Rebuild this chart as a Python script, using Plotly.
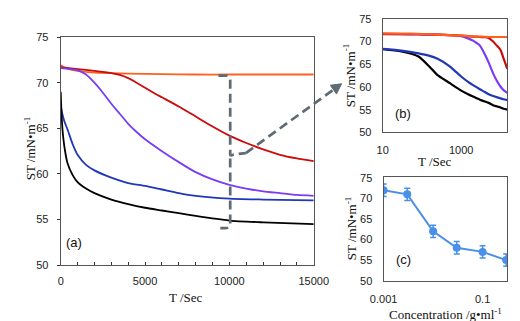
import plotly.graph_objects as go

W, H = 520, 321

# ---------------- data: panel (a) ----------------
t_orange = [0, 100, 300, 600, 1000, 2000, 3000, 4000, 6000, 8000, 10000, 12000, 15000]
st_orange = [71.9, 71.8, 71.6, 71.45, 71.3, 71.1, 71.05, 71.0, 70.95, 70.9, 70.9, 70.9, 70.9]

t_red = [0, 1000, 2000, 3000, 3500, 4000, 4500, 5000, 5500, 6000, 7000, 8000, 9000, 10000, 11000, 12000, 13000, 14000, 15000]
st_red = [71.7, 71.5, 71.3, 71.05, 70.85, 70.5, 70.0, 69.45, 68.9, 68.4, 67.4, 66.3, 65.2, 64.2, 63.4, 62.7, 62.1, 61.7, 61.4]

t_purple = [0, 500, 1000, 1500, 2000, 2500, 3000, 3500, 4000, 4500, 5000, 6000, 7000, 8000, 9000, 10000, 11000, 12000, 13000, 14000, 15000]
st_purple = [71.6, 71.5, 71.35, 70.9, 70.0, 68.9, 67.7, 66.6, 65.5, 64.6, 63.8, 62.5, 61.3, 60.2, 59.4, 58.8, 58.4, 58.1, 57.9, 57.7, 57.6]

t_blue = [0, 50, 150, 250, 400, 700, 1000, 1500, 2000, 3000, 4000, 5000, 6000, 7000, 8000, 10000, 12000, 15000]
st_blue = [67.6, 67.0, 66.2, 65.6, 64.9, 63.3, 62.1, 61.0, 60.4, 59.6, 59.0, 58.7, 58.3, 57.9, 57.6, 57.3, 57.2, 57.1]

t_black = [0, 50, 100, 150, 250, 400, 700, 1000, 1500, 2000, 3000, 4000, 5000, 6000, 7000, 8000, 10000, 12000, 15000]
st_black = [69.0, 66.5, 65.0, 64.0, 62.6, 61.2, 59.9, 59.1, 58.4, 57.9, 57.2, 56.7, 56.3, 56.0, 55.7, 55.4, 54.9, 54.7, 54.5]

# ---------------- data: panel (b) (log time) ----------------
tb = [10, 30, 82, 150, 250, 500, 1000, 1500, 2000, 3000, 4000, 5000, 6500, 8300, 10000, 12000, 15000]
b_orange = [71.8, 71.75, 71.7, 71.6, 71.5, 71.4, 71.3, 71.2, 71.15, 71.1, 71.05, 71.0, 71.0, 71.0, 71.0, 71.0, 71.0]
b_red = [71.7, 71.65, 71.6, 71.55, 71.5, 71.4, 71.3, 71.2, 71.1, 71.0, 70.95, 70.8, 70.0, 69.0, 68.2, 66.3, 64.0]
b_purple = [71.6, 71.6, 71.55, 71.5, 71.5, 71.4, 71.2, 70.7, 70.2, 69.1, 67.2, 65.4, 63.0, 61.2, 60.1, 59.3, 58.7]
b_blue = [68.4, 68.0, 67.4, 66.9, 66.2, 64.6, 62.3, 61.1, 60.4, 59.5, 58.9, 58.4, 58.0, 57.7, 57.5, 57.3, 57.1]
b_black = [68.3, 67.8, 66.7, 64.6, 62.6, 60.9, 59.2, 58.4, 57.9, 57.2, 56.8, 56.5, 56.0, 55.7, 55.5, 55.2, 55.0]

# ---------------- data: panel (c) ----------------
conc = [0.001, 0.003, 0.01, 0.03, 0.1, 0.3]
st_c = [72, 71, 62, 58, 57, 55]
err_c = [1.5, 1.5, 1.5, 1.5, 1.5, 1.5]

xa_ticks = list(range(0, 15001, 1000))
xa_text = [str(v) if v % 5000 == 0 else "" for v in xa_ticks]
y_ticks = [50, 55, 60, 65, 70, 75]

C_OR, C_RED, C_PUR, C_BLU, C_BLK = "#FF6020", "#CC0A0A", "#7A3CF5", "#2038B8", "#000000"
C_C = "#4A8FE8"
GRAY = "#5E6B72"

fig = go.Figure()

def add(x, y, c, xa, ya, w=1.8):
    fig.add_trace(go.Scatter(x=x, y=y, mode="lines", line=dict(color=c, width=w, shape="spline", smoothing=0.6),
                             xaxis=xa, yaxis=ya, showlegend=False, hoverinfo="skip"))

add(t_orange, st_orange, C_OR, "x", "y")
add(t_red, st_red, C_RED, "x", "y")
add(t_purple, st_purple, C_PUR, "x", "y")
add(t_blue, st_blue, C_BLU, "x", "y")
add(t_black, st_black, C_BLK, "x", "y")

add(tb, b_black, C_BLK, "x2", "y2", 2.2)
add(tb, b_blue, C_BLU, "x2", "y2", 2.2)
add(tb, b_purple, C_PUR, "x2", "y2", 2.2)
add(tb, b_red, C_RED, "x2", "y2", 2.2)
add(tb, b_orange, C_OR, "x2", "y2", 2.2)

fig.add_trace(go.Scatter(x=conc, y=st_c, mode="lines+markers", xaxis="x3", yaxis="y3",
                         line=dict(color=C_C, width=2), marker=dict(color=C_C, size=8),
                         error_y=dict(type="data", array=err_c, color=C_C, thickness=1.5, width=3),
                         showlegend=False, hoverinfo="skip"))

def px(x): return x / W
def py(y): return 1 - y / H

tickfont = dict(family="Liberation Sans, Arial, sans-serif", size=11, color="#222")
ax_common = dict(showgrid=False, zeroline=False, showline=True, mirror=True, linecolor="#555", linewidth=1.2,
                 tickfont=tickfont)

fig.update_layout(
    width=W, height=H, margin=dict(l=0, r=0, t=0, b=0),
    paper_bgcolor="white", plot_bgcolor="white",
    xaxis=dict(domain=[px(41), px(309)], range=[0, 15000], tickvals=xa_ticks, ticktext=xa_text,
               ticks="inside", ticklen=3, tickcolor="#333", anchor="y", ticklabelstandoff=5, **ax_common),
    yaxis=dict(domain=[py(261), py(24)], range=[50, 75], tickvals=y_ticks, ticks="outside", ticklen=3,
               tickcolor="#333", anchor="x", ticklabelstandoff=6, **ax_common),
    xaxis2=dict(domain=[px(382), px(514)], type="log", range=[1, 4.176], tickvals=[10, 1000],
                ticktext=["10", "1000"], ticks="", anchor="y2", ticklabelstandoff=7, **ax_common),
    yaxis2=dict(domain=[py(123), py(5)], range=[50, 75], tickvals=y_ticks, ticks="", anchor="x2",
                ticklabelstandoff=8, **ax_common),
    xaxis3=dict(domain=[px(383), px(514)], type="log", range=[-3, -0.5], tickvals=[0.001, 0.1],
                ticktext=["0.001", "0.1"], ticks="", anchor="y3", ticklabelstandoff=8, **ax_common),
    yaxis3=dict(domain=[py(277), py(169)], range=[50, 75.3], tickvals=y_ticks, ticks="", anchor="x3",
                ticklabelstandoff=8, **ax_common),
)

serif = dict(family="Liberation Serif, Times New Roman, serif", size=13, color="#111")
sans = dict(family="Liberation Sans, Arial, sans-serif", size=13, color="#111")
ann = [
    dict(text="T /Sec", x=px(174), y=py(295), font=serif),
    dict(text="ST /mN•m<sup>-1</sup>", x=px(8), y=py(140), font=serif, textangle=-90),
    dict(text="T /Sec", x=px(437), y=py(153), font=serif),
    dict(text="ST /mN•m<sup>-1</sup>", x=px(346), y=py(64), font=serif, textangle=-90),
    dict(text="Concentration /g•ml<sup>-1</sup>", x=px(449), y=py(312), font=serif),
    dict(text="ST /mN•m<sup>-1</sup>", x=px(348), y=py(223), font=serif, textangle=-90),
    dict(text="(a)", x=px(55), y=py(237), font=sans),
    dict(text="(b)", x=px(404), y=py(103), font=sans),
    dict(text="(c)", x=px(404), y=py(255), font=sans),
]
for a in ann:
    a.update(xref="paper", yref="paper", showarrow=False, xanchor="center", yanchor="middle")
fig.update_layout(annotations=ann)

def P(x, y): return f"{px(x):.5f},{py(y):.5f}"

dash_line = dict(color=GRAY, width=2.7, dash="9px,5px")
brace = ("M " + P(208, 64) + " L " + P(216, 64) + " Q " + P(220.5, 64) + " " + P(220.5, 69) +
         " L " + P(220.5, 146) + " Q " + P(220.5, 148) + " " + P(224, 146) + " L " + P(237, 144.5))
brace2 = ("M " + P(220.5, 150) + " L " + P(220.5, 218) + " Q " + P(220.5, 222.5) + " " + P(215, 222.5) +
          " L " + P(210, 222.5))
shapes = [
    dict(type="path", path=brace, xref="paper", yref="paper", line=dash_line),
    dict(type="path", path=brace2, xref="paper", yref="paper", line=dash_line),
    dict(type="line", x0=px(237), y0=py(144.5), x1=px(330), y1=py(78.5), xref="paper", yref="paper", line=dash_line),
    dict(type="path", path="M " + P(338.5, 72.5) + " L " + P(333, 83) + " L " + P(326.5, 74) + " Z",
         xref="paper", yref="paper", fillcolor=GRAY, line=dict(color=GRAY, width=1)),
]
fig.update_layout(shapes=shapes)

fig.write_html("out.html")
